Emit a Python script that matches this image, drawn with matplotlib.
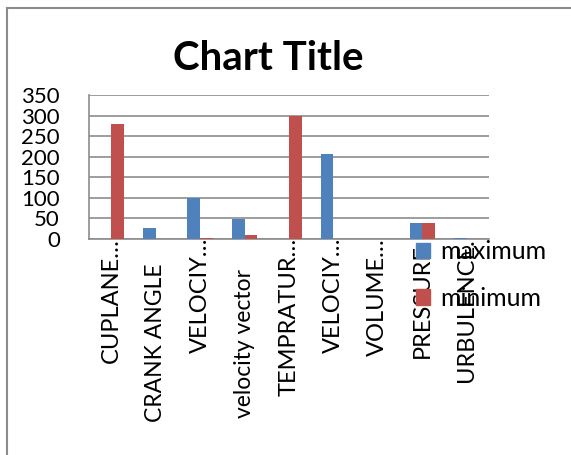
import matplotlib.pyplot as plt
import matplotlib.transforms as mtransforms
import numpy as np
from matplotlib.lines import Line2D
from matplotlib.patches import Patch

categories = ['CUPLANE…', 'CRANK ANGLE', 'VELOCIY…', 'velocity vector', 'TEMPRATUR…',
              'VELOCIY…', 'VOLUME…', 'PRESSURE.', 'URBULENCE.']
maximum = [0, 27, 100, 48, 0, 207, 0, 38, 2]
minimum = [280, 0, 3, 10, 300, 0, 0, 40, 0]
yticks = [0, 50, 100, 150, 200, 250, 300, 350]

W, H = 571, 455
plt.rcParams['font.family'] = ['Lato', 'DejaVu Sans']
fig = plt.figure(figsize=(W / 100, H / 100), dpi=100)

# plot area in pixels: left 89, right 489, top 95, bottom 239
ax = fig.add_axes([89 / W, 1 - 239 / H, 400 / W, 144 / H])

x = np.arange(len(categories))
bw = 0.286
ax.bar(x - bw / 2, maximum, width=bw, color='#4F81BD', zorder=3)
ax.bar(x + bw / 2, minimum, width=bw, color='#C0504D', zorder=3)

ax.set_xlim(-0.5, len(categories) - 0.5)
ax.set_ylim(0, 350)
ax.set_yticks(yticks)
ax.set_yticklabels([str(v) for v in yticks], fontsize=16)
ax.yaxis.grid(True, color='#8c8c8c', linewidth=1.2, zorder=0)
ax.set_xticks([])
ax.tick_params(axis='y', length=0, pad=21)
for s in ['top', 'right']:
    ax.spines[s].set_visible(False)
for s in ['left', 'bottom']:
    ax.spines[s].set_color('#8c8c8c')
    ax.spines[s].set_linewidth(1.2)

# category labels: truncated ones hang from the axis, full ones sit centred in the label band
trans = mtransforms.blended_transform_factory(ax.transData, fig.transFigure)
for xi, lab in zip(x, categories):
    if lab.endswith('…') or lab.endswith('.'):
        ax.text(xi, 1 - 238 / H, lab, rotation=90, fontsize=17, ha='center', va='top',
                transform=trans)
    else:
        ax.text(xi, 1 - 343 / H, lab, rotation=90, fontsize=16.5, ha='center', va='center',
                transform=trans)

fig.text(268 / W, 1 - 58 / H, 'Chart Title', fontsize=29, fontweight='bold',
         ha='center', va='center')

handles = [Patch(color='#4F81BD'), Patch(color='#C0504D')]
leg = fig.legend(handles, ['maximum', 'minimum'], loc='upper left',
                 bbox_to_anchor=(416 / W, 1 - 240 / H), frameon=False, fontsize=18,
                 handlelength=0.56, handleheight=0.56, handletextpad=0.4,
                 labelspacing=0.95, borderaxespad=0, borderpad=0)
leg.set_zorder(10)

# outer chart frame (left and top edges visible)
fig.add_artist(Line2D([7 / W, 7 / W], [0, 1 - 8 / H], color='#8c8c8c', linewidth=1.5))
fig.add_artist(Line2D([7 / W, 1], [1 - 8 / H, 1 - 8 / H], color='#8c8c8c', linewidth=1.5))

fig.savefig('out.png', dpi=100)
